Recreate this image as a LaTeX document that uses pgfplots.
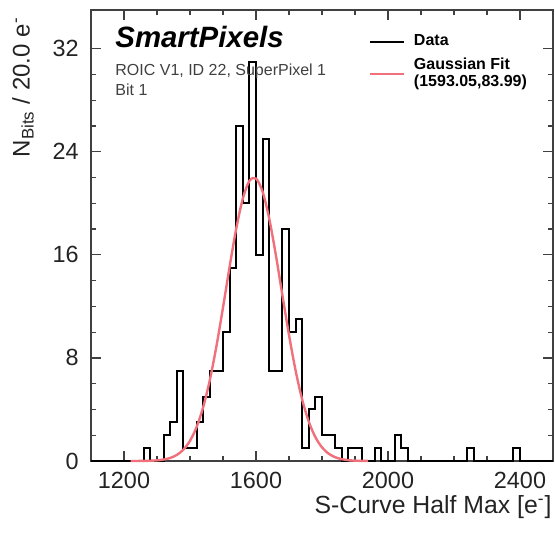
\documentclass[border=0pt]{standalone}
\usepackage{pgfplots}
\pgfplotsset{compat=1.18}
\usepackage{fontspec}
\setmainfont{Liberation Sans}
\definecolor{fitred}{RGB}{240,112,124}
\definecolor{txt}{RGB}{35,35,35}
\begin{document}
\begin{tikzpicture}
\begin{axis}[
  scale only axis,
  width=231bp, height=225.5bp,
  xmin=1100, xmax=2500, ymin=0, ymax=35,
  xtick={1200,1600,2000,2400}, minor x tick num=3,
  ytick={0,8,16,24,32}, minor y tick num=3,
  tick align=inside, tick pos=both,
  major tick length=5bp, minor tick length=2.5bp,
  axis line style={black!75, line width=0.7bp},
  every tick/.style={black!75, line width=0.6bp},
  tick label style={font=\fontsize{11.7bp}{14bp}\selectfont, text=txt},
  /pgf/number format/assume math mode=true,
  /pgf/number format/set thousands separator={},
  xticklabel style={yshift=-2bp},
  yticklabel style={xshift=-2.6bp},
  clip=false,
  legend style={at={(rel axis cs:0.6,0.955)}, anchor=north west, draw=none, fill=none,
    font=\bfseries\fontsize{8bp}{8.5bp}\selectfont, cells={anchor=west, align=left},
    row sep=0.8bp, inner sep=0pt,
    /tikz/every odd column/.append style={column sep=2.5bp}},
  legend image code/.code={\draw[#1] (0bp,0bp) -- (17bp,0bp);},
]
\addplot[black, line width=1bp, const plot mark left] coordinates {
(1100,0) (1260,1) (1280,0) (1300,0) (1320,2) (1340,3) (1360,7) (1380,1) (1400,1)
(1420,3) (1440,5) (1460,7) (1480,7) (1500,10) (1520,15) (1540,26) (1560,20)
(1580,31) (1600,16) (1620,25) (1640,7) (1660,7) (1680,18) (1700,10) (1720,11)
(1740,1) (1760,4) (1780,5) (1800,2) (1820,2) (1840,1) (1860,0) (1880,1) (1900,1)
(1920,0) (1940,0) (1960,1) (1980,0) (2000,0) (2020,2) (2040,1) (2060,0)
(2240,1) (2260,0) (2380,1) (2400,0) (2500,0)
};
\addlegendentry{Data}
\addplot[fitred, line width=1.2bp, smooth] coordinates {
(1220,0.001) (1240,0.003) (1260,0.009) (1280,0.021) (1300,0.050) (1320,0.112)
(1340,0.235) (1360,0.469) (1380,0.882) (1400,1.568) (1420,2.633) (1440,4.182)
(1460,6.274) (1480,8.892) (1500,11.909) (1520,15.07) (1540,18.02) (1560,20.36)
(1580,21.74) (1600,21.92) (1620,20.90) (1640,18.82) (1660,16.01) (1680,12.87)
(1700,9.78) (1720,7.02) (1740,4.76) (1760,3.05) (1780,1.848) (1800,1.057)
(1820,0.571) (1840,0.292) (1860,0.141) (1880,0.064) (1900,0.028) (1920,0.011)
(1940,0.004)
};
\addlegendentry{Gaussian Fit\\(1593.05,83.99)}
\coordinate (LL) at (rel axis cs:0,0);
\coordinate (UR) at (rel axis cs:1,1);
\node[anchor=base west, inner sep=0pt, font=\bfseries\itshape\fontsize{14.7bp}{16bp}\selectfont]
  at ([xshift=12bp, yshift=-19bp]rel axis cs:0,1) {SmartPixels};
\node[anchor=base west, inner sep=0pt, text=black!75, font=\fontsize{8bp}{9bp}\selectfont]
  at ([xshift=12bp, yshift=-33bp]rel axis cs:0,1) {ROIC V1, ID 22, SuperPixel 1};
\node[anchor=base west, inner sep=0pt, text=black!75, font=\fontsize{8bp}{9bp}\selectfont]
  at ([xshift=12bp, yshift=-43bp]rel axis cs:0,1) {Bit 1};
\node[rotate=90, anchor=east, inner sep=0pt, text=txt, font=\fontsize{12bp}{14bp}\selectfont]
  at ([xshift=-34bp, yshift=-3.5bp]rel axis cs:0,1) {N\textsubscript{Bits} / 20.0 e\textsuperscript{-}};
\node[anchor=base east, inner sep=0pt, text=txt, font=\fontsize{12.4bp}{14bp}\selectfont]
  at ([xshift=-0.5bp, yshift=-26.25bp]rel axis cs:1,0) {S-Curve Half Max [e\textsuperscript{-}]};
\end{axis}
\pgfresetboundingbox
\path ([xshift=-45.5bp, yshift=-36bp]LL) rectangle ([xshift=1bp, yshift=5bp]UR);
\end{tikzpicture}
\end{document}
